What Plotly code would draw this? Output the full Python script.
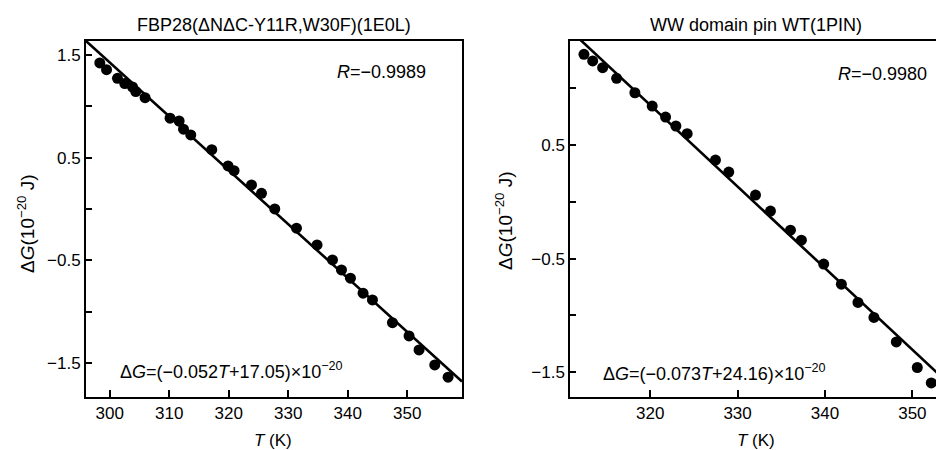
import plotly.graph_objects as go

# ---- data: left panel FBP28 ----
left_T = [298.32, 299.45, 301.29, 302.52, 303.82, 304.37, 305.93, 310.13, 311.65, 312.39,
          313.61, 317.14, 319.88, 320.89, 323.82, 325.50, 327.73, 331.38, 334.84, 337.43,
          338.94, 340.45, 342.57, 344.15, 347.51, 350.30, 351.98, 354.62, 356.86]
left_G = [1.422, 1.357, 1.273, 1.221, 1.188, 1.143, 1.084, 0.884, 0.857, 0.777,
          0.721, 0.578, 0.419, 0.373, 0.234, 0.153, 0.001, -0.187, -0.350, -0.496,
          -0.593, -0.674, -0.820, -0.886, -1.107, -1.236, -1.373, -1.519, -1.638]
left_fit_T = [296.0, 359.2]
left_fit_G = [1.636, -1.68]

# ---- data: right panel WW domain ----
right_T = [312.42, 313.42, 314.56, 316.16, 318.25, 320.23, 321.76, 322.94, 324.23, 327.47,
           328.99, 332.05, 333.76, 336.05, 337.30, 339.85, 341.87, 343.77, 345.60, 348.16,
           350.56, 352.16]
right_G = [1.300, 1.241, 1.182, 1.088, 0.961, 0.844, 0.747, 0.668, 0.600, 0.368,
           0.262, 0.059, -0.082, -0.250, -0.338, -0.549, -0.726, -0.887, -1.019, -1.235,
           -1.460, -1.596]
right_fit_T = [311.0, 353.3]
right_fit_G = [1.500, -1.541]

y_tickvals = [-1.5, -0.5, 0.5, 1.5]
y_ticktext = ["\u22121.5", "\u22120.5", "0.5", "1.5"]
left_xticks = [300, 310, 320, 330, 340, 350]
right_xticks = [320, 330, 340, 350]

titles = ["FBP28(\u0394N\u0394C-Y11R,W30F)(1E0L)", "WW domain pin WT(1PIN)"]
r_texts = ["<i>R</i>=\u22120.9989", "<i>R</i>=\u22120.9980"]
eq_texts = ["\u0394<i>G</i>=(\u22120.052<i>T</i>+17.05)\u00d710<sup>\u221220</sup>",
            "\u0394<i>G</i>=(\u22120.073<i>T</i>+24.16)\u00d710<sup>\u221220</sup>"]
ytitle = "\u0394<i>G</i>(10<sup>\u221220</sup> J)"
xtitle = "<i>T</i> (K)"

FONT = "Liberation Sans, Arial, sans-serif"
W, H = 936, 450

fig = go.Figure()
mk = dict(color="black", size=11)
ln = dict(color="black", width=2.6)
fig.add_trace(go.Scatter(x=left_fit_T, y=left_fit_G, mode="lines", line=ln, xaxis="x", yaxis="y", showlegend=False))
fig.add_trace(go.Scatter(x=left_T, y=left_G, mode="markers", marker=mk, xaxis="x", yaxis="y", showlegend=False, cliponaxis=True))
fig.add_trace(go.Scatter(x=right_fit_T, y=right_fit_G, mode="lines", line=ln, xaxis="x2", yaxis="y2", showlegend=False))
fig.add_trace(go.Scatter(x=right_T, y=right_G, mode="markers", marker=mk, xaxis="x2", yaxis="y2", showlegend=False, cliponaxis=True))

ax_common = dict(showgrid=False, zeroline=False, linecolor="black", linewidth=2,
                 ticks="inside", tickcolor="black", tickwidth=2,
                 tickfont=dict(family=FONT, size=17, color="black"))
minor_y = dict(dtick=0.5, tick0=0, ticks="inside", ticklen=6, tickwidth=2, tickcolor="black", showgrid=False)

fig.update_layout(
    width=W, height=H,
    margin=dict(l=0, r=0, t=41, b=53),
    paper_bgcolor="white", plot_bgcolor="white",
    font=dict(family=FONT, size=17, color="black"),
    xaxis=dict(domain=[86 / W, 462 / W], range=[296.0, 359.2], tickvals=left_xticks,
               ticklen=7, mirror=True, anchor="y", **ax_common),
    yaxis=dict(domain=[0, 1], range=[-1.831, 1.636], tickvals=y_tickvals, ticktext=y_ticktext,
               ticklen=6, mirror=True, anchor="x", minor=minor_y, **ax_common),
    xaxis2=dict(domain=[570.3 / W, 1.0], range=[310.86, 352.7], tickvals=right_xticks,
                ticklen=7, mirror=True, anchor="y2", **ax_common),
    yaxis2=dict(domain=[0, 1], range=[-1.72, 1.417], tickvals=y_tickvals, ticktext=y_ticktext,
                ticklen=6, mirror=False, anchor="x2", minor=minor_y, **ax_common),
)

def py(pix):
    return (397 - pix) / 356.0

ann = []
ann.append(dict(text=titles[0], x=274 / W, y=py(25), xanchor="center", yanchor="middle", font=dict(size=18)))
ann.append(dict(text=titles[1], x=756 / W, y=py(25), xanchor="center", yanchor="middle", font=dict(size=18)))
ann.append(dict(text=xtitle, x=273 / W, y=py(440), xanchor="center", yanchor="middle"))
ann.append(dict(text=xtitle, x=756 / W, y=py(440), xanchor="center", yanchor="middle"))
ann.append(dict(text=ytitle, x=26 / W, y=py(224), xanchor="center", yanchor="middle", textangle=-90, font=dict(size=19)))
ann.append(dict(text=ytitle, x=504 / W, y=py(221), xanchor="center", yanchor="middle", textangle=-90, font=dict(size=19)))
ann.append(dict(text=r_texts[0], x=428 / W, y=py(72), xanchor="right", yanchor="middle", font=dict(size=18)))
ann.append(dict(text=r_texts[1], x=929 / W, y=py(74), xanchor="right", yanchor="middle", font=dict(size=18)))
ann.append(dict(text=eq_texts[0], x=118 / W, y=py(370), xanchor="left", yanchor="middle", font=dict(size=18)))
ann.append(dict(text=eq_texts[1], x=601 / W, y=py(372), xanchor="left", yanchor="middle", font=dict(size=18)))
for a in ann:
    a.update(xref="paper", yref="paper", showarrow=False)
    f = dict(family=FONT, size=17, color="black")
    f.update(a.get("font", {}))
    a["font"] = f
fig.update_layout(annotations=ann)

fig.write_html("out.html")
